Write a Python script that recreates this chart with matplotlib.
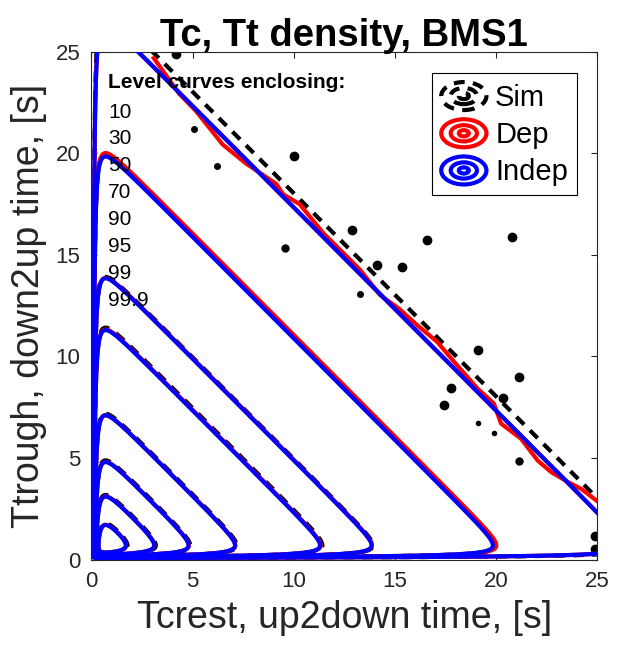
import numpy as np
import matplotlib
matplotlib.use('Agg')
import matplotlib.pyplot as plt
from matplotlib.lines import Line2D
from matplotlib.patches import Ellipse
from matplotlib.legend_handler import HandlerBase

plt.rcParams['font.family'] = ['Liberation Sans', 'DejaVu Sans']
plt.rcParams['lines.dashed_pattern'] = [2.6, 2.0]

# level curves and the height (Tt) of their top
level_pct = ['10', '30', '50', '70', '90', '95', '99', '99.9']
peak_sim = [1.78, 3.18, 4.88, 7.18, 11.42, 13.92, 19.95, 27.0]
peak_dep = [1.71, 3.11, 4.81, 7.11, 11.33, 13.87, 20.02, 26.3]
peak_indep = [1.70, 3.10, 4.80, 7.10, 11.30, 13.85, 19.85, 26.3]

# the ragged outer Dep curve
dep_outer_tc = [3.08, 4.33, 5.16, 6.48, 7.65, 9.14, 9.47, 10.3, 11.46, 12.37, 13.28,
                14.28, 15.19, 16.1, 17.1, 17.93, 19.09, 19.9, 20.25, 21.24, 22.07,
                22.74, 23.57, 24.23, 24.98]
dep_outer_tt = [24.7, 22.95, 22.1, 20.45, 19.5, 18.5, 18.0, 17.5, 16.08, 15.18, 14.27,
                13.02, 12.37, 11.55, 10.72, 9.74, 8.42, 7.68, 6.7, 5.95, 4.87,
                4.3, 3.81, 3.47, 2.9]

# isolated islands of the simulated density
sim_dot_tc = [12.87, 16.6, 9.55, 15.36, 14.1, 13.28, 19.09, 21.16, 17.76, 17.43, 20.33,
              19.09, 19.9, 21.16, 24.9, 24.9, 5.07, 6.23, 10.0, 20.8, 4.2]
sim_dot_tt = [16.24, 15.75, 15.35, 14.43, 14.5, 13.07, 10.34, 8.97, 8.47, 7.6, 7.97,
              6.7, 6.25, 4.83, 1.16, 0.5, 21.2, 19.39, 19.89, 15.9, 24.9]
sim_dot_ms = [6, 6, 5, 6, 6, 4, 6, 6, 6, 6, 6, 3, 3, 5, 6, 6, 4, 4, 6, 6, 6]

C = 0.17
x0 = (2 * C) ** (1 / 3)


def shape(tc, tt):
    return tc + tt + C / tc ** 2 + C / tt ** 2


t = np.concatenate([np.geomspace(0.02, 1.0, 120, endpoint=False), np.linspace(1.0, 32, 700)])
TC, TT = np.meshgrid(t, t)
Z = shape(TC, TT)


class RingsHandler(HandlerBase):
    def create_artists(self, legend, orig_handle, xdescent, ydescent, width, height, fontsize, trans):
        cx = width / 2 - xdescent
        cy = height / 2 - ydescent
        arts = []
        for f in (1.0, 0.58, 0.22):
            e = Ellipse((cx, cy), width * f, height * f, fill=False,
                        ec=orig_handle.get_color(), lw=orig_handle.get_linewidth(),
                        ls=orig_handle.get_linestyle(), transform=trans)
            arts.append(e)
        return arts


fig = plt.figure(figsize=(6.21, 6.49), dpi=100)
ax = fig.add_axes([0.1473, 0.1379, 0.8141, 0.782])

ax.contour(TC, TT, Z, levels=[shape(x0, p) for p in peak_sim], colors='k',
           linewidths=3, linestyles='--', zorder=1)
for xs, ys, m in zip(sim_dot_tc, sim_dot_tt, sim_dot_ms):
    ax.plot(xs, ys, 'o', color='k', ms=m, zorder=1)
ax.contour(TC, TT, Z, levels=[shape(x0, p) for p in peak_dep], colors='r',
           linewidths=3, zorder=2)
ax.plot(dep_outer_tc, dep_outer_tt, color='r', lw=3, zorder=2)
ax.contour(TC, TT, Z, levels=[shape(x0, p) for p in peak_indep], colors='b',
           linewidths=3, zorder=3)

ax.set_xlim(0, 25)
ax.set_ylim(0, 25)
ax.set_xticks([0, 5, 10, 15, 20, 25])
ax.set_yticks([0, 5, 10, 15, 20, 25])
ax.tick_params(direction='in', length=4, width=0.8, top=True, right=True,
               labelsize=16, colors='#262626', pad=8)
for s in ax.spines.values():
    s.set_color('#262626')
    s.set_linewidth(0.8)

ax.set_xlabel('Tcrest, up2down time, [s]', fontsize=27, color='#262626', labelpad=6)
ax.set_ylabel('Ttrough, down2up time, [s]', fontsize=27, color='#262626', labelpad=6)
ax.set_title('Tc, Tt density, BMS1', fontsize=27.5, fontweight='bold', pad=4)

ax.text(0.82, 23.48, 'Level curves enclosing:', fontsize=15, fontweight='bold',
        va='center', ha='left', zorder=5)
for i, lab in enumerate(level_pct):
    ax.text(0.82, 22.04 - 1.323 * i, lab, fontsize=15, va='center', ha='left', zorder=5)

handles = [Line2D([], [], color='k', lw=3, ls='--'),
           Line2D([], [], color='r', lw=3),
           Line2D([], [], color='b', lw=3)]
leg = ax.legend(handles, ['Sim', 'Dep', 'Indep'], loc='upper right',
                bbox_to_anchor=(0.96, 0.958), borderaxespad=0, fontsize=21,
                handler_map={Line2D: RingsHandler()}, handlelength=1.55,
                handleheight=1.1, handletextpad=0.3, borderpad=0.3,
                labelspacing=0.25, fancybox=False, framealpha=1, edgecolor='k')
leg.get_frame().set_linewidth(0.8)
leg.set_zorder(6)

fig.savefig('out.png', dpi=100)
